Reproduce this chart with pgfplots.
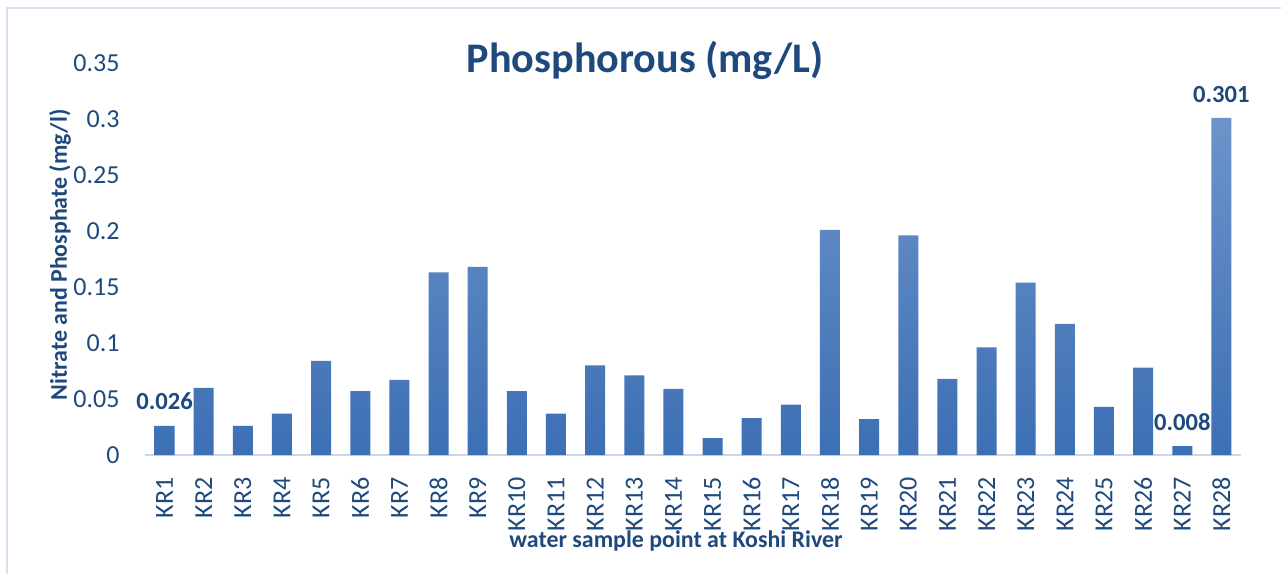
\documentclass[border=0pt]{standalone}
\usepackage{pgfplots}
\pgfplotsset{compat=1.18}
\usepackage{fontspec}
\setmainfont{Carlito}

\definecolor{txtblue}{HTML}{1F497D}
\definecolor{bartop}{HTML}{6D94CA}
\definecolor{barbot}{HTML}{3C6FB4}
\definecolor{framecol}{HTML}{D5E2F2}
\definecolor{axiscol}{HTML}{C9D7EC}

\begin{document}
\begin{tikzpicture}[x=1cm,y=1cm]
\useasboundingbox (0,0) rectangle (12.81,5.74);
\draw[framecol, line width=0.2mm] (0.07,0) -- (0.07,5.66) -- (12.81,5.66);

\begin{axis}[
    at={(1.45cm,1.19cm)}, anchor=origin,
    scale only axis,
    width=10.96cm, height=3.92cm,
    ymin=0, ymax=0.35,
    xmin=0.5, xmax=28.5,
    ytick={0,0.05,...,0.35},
    yticklabels={0,0.05,0.1,0.15,0.2,0.25,0.3,0.35},
    xtick={1,...,28},
    xticklabels={KR1,KR2,KR3,KR4,KR5,KR6,KR7,KR8,KR9,KR10,KR11,KR12,KR13,KR14,
                 KR15,KR16,KR17,KR18,KR19,KR20,KR21,KR22,KR23,KR24,KR25,KR26,KR27,KR28},
    x tick label style={rotate=90, anchor=east, font=\fontsize{7.4}{8}\selectfont, text=txtblue},
    y tick label style={font=\fontsize{7.4}{8}\selectfont, text=txtblue},
    /pgf/number format/assume math mode=true,
    major tick length=0pt,
    xticklabel shift=1mm,
    yticklabel shift=1.3mm,
    axis x line=bottom,
    axis y line=left,
    x axis line style={draw=axiscol, line width=0.2mm, -},
    y axis line style={draw=none},
    clip=false,
]
\addplot[ybar, bar width=2mm, bar shift=0pt, draw=none,
    top color=bartop, bottom color=barbot,
    point meta=explicit symbolic,
    nodes near coords,
    every node near coord/.append style={font=\bfseries\fontsize{7.0}{8}\selectfont, text=txtblue, inner sep=1.5mm},
] coordinates {
    (1,0.026) [0.026]
    (2,0.060) []
    (3,0.026) []
    (4,0.037) []
    (5,0.084) []
    (6,0.057) []
    (7,0.067) []
    (8,0.163) []
    (9,0.168) []
    (10,0.057) []
    (11,0.037) []
    (12,0.080) []
    (13,0.071) []
    (14,0.059) []
    (15,0.015) []
    (16,0.033) []
    (17,0.045) []
    (18,0.201) []
    (19,0.032) []
    (20,0.196) []
    (21,0.068) []
    (22,0.096) []
    (23,0.154) []
    (24,0.117) []
    (25,0.043) []
    (26,0.078) []
    (27,0.008) [0.008]
    (28,0.301) [0.301]
};
\end{axis}

\node[font=\bfseries\fontsize{12}{14}\selectfont, text=txtblue] at (6.45,5.14) {Phosphorous (mg/L)};
\node[font=\bfseries\fontsize{6.8}{8}\selectfont, text=txtblue, rotate=90] at (0.60,3.19) {Nitrate and Phosphate (mg/l)};
\node[font=\bfseries\fontsize{6.8}{8}\selectfont, text=txtblue] at (6.76,0.33) {water sample point at Koshi River};
\end{tikzpicture}
\end{document}
